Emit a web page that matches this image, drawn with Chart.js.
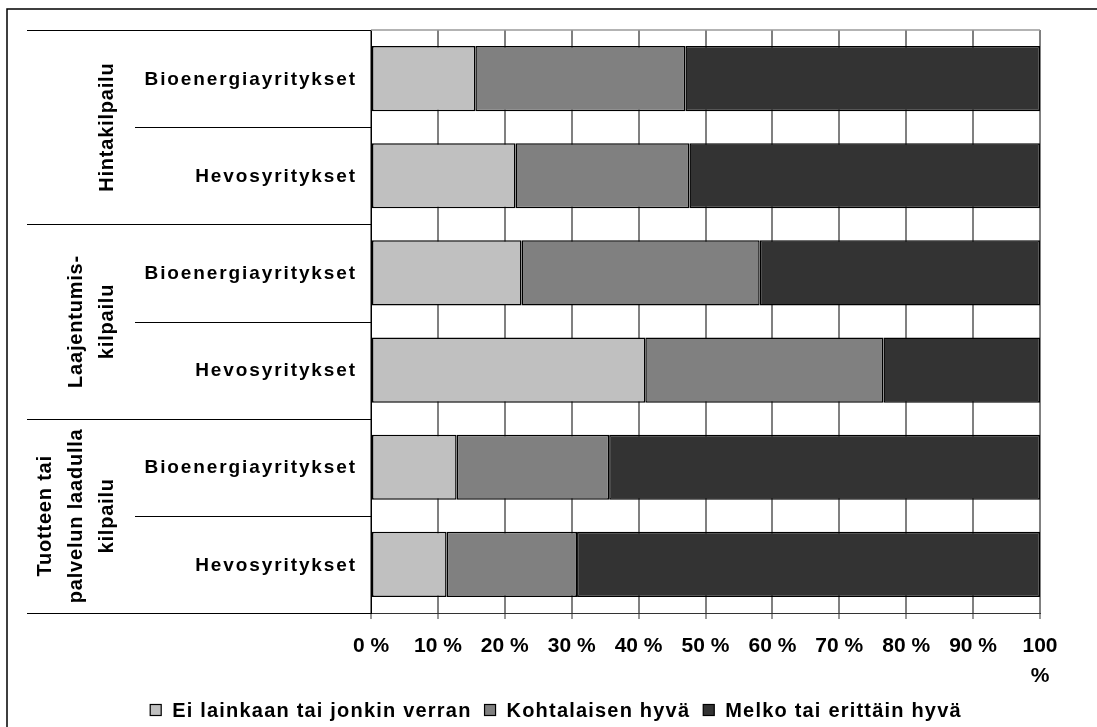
<!DOCTYPE html>
<html>
<head>
<meta charset="utf-8">
<script src="https://cdn.jsdelivr.net/npm/chart.js@4.4.1/dist/chart.umd.min.js"></script>
<style>
  body { margin: 0; background: #fff; }
  #wrap { width: 1097px; height: 727px; }
</style>
</head>
<body>
<div id="wrap"><canvas id="chart" width="1097" height="727"></canvas></div>
<script>
// --- Data ---
const categories = ['Bioenergiayritykset', 'Hevosyritykset', 'Bioenergiayritykset', 'Hevosyritykset', 'Bioenergiayritykset', 'Hevosyritykset'];
const groupLabels = [['Hintakilpailu'], ['Laajentumis-', 'kilpailu'], ['Tuotteen tai', 'palvelun laadulla', 'kilpailu']];
const seriesNames = ['Ei lainkaan tai jonkin verran', 'Kohtalaisen hyvä', 'Melko tai erittäin hyvä'];
const eiLainkaan = [15.6, 21.6, 22.5, 41.0, 12.8, 11.3];
const kohtalainen = [31.4, 26.0, 35.6, 35.6, 22.8, 19.5];
const melko = [53.0, 52.4, 41.9, 23.4, 64.4, 69.2];
const xTicks = [0, 10, 20, 30, 40, 50, 60, 70, 80, 90, 100];

const colors = ['#C0C0C0', '#808080', '#333333'];
const FONT = '"Liberation Sans", Arial, sans-serif';

// Draws the category labels, group labels, separators, legend and frame
const sideLabels = {
    id: 'sideLabels',
    afterDraw(chart) {
        const ctx = chart.ctx;
        const y = chart.scales.y;
        const area = chart.chartArea;
        ctx.save();

        // outer frame (top + left)
        ctx.strokeStyle = '#000';
        ctx.lineWidth = 1.5;
        ctx.beginPath();
        ctx.moveTo(7, 727); ctx.lineTo(7, 9); ctx.lineTo(1097, 9);
        ctx.stroke();

        // plot top border
        ctx.strokeStyle = '#9a9a9a';
        ctx.lineWidth = 1.5;
        ctx.beginPath();
        ctx.moveTo(area.left, area.top); ctx.lineTo(area.right, area.top);
        ctx.stroke();

        // separators between categories / groups
        ctx.strokeStyle = '#000';
        ctx.lineWidth = 1;
        for (let i = 0; i <= categories.length; i++) {
            const py = Math.round(y.getPixelForValue(i - 0.5)) + 0.5;
            const x0 = (i % 2 === 0) ? 27 : 135;
            ctx.beginPath();
            ctx.moveTo(x0, py); ctx.lineTo(area.left, py);
            ctx.stroke();
        }

        // category labels
        ctx.fillStyle = '#000';
        ctx.font = 'bold 19px ' + FONT;
        ctx.letterSpacing = '1.9px';
        ctx.textAlign = 'right';
        ctx.textBaseline = 'middle';
        categories.forEach((c, i) => {
            ctx.fillText(c, 357, y.getPixelForTick(i) + 1);
        });

        // group labels, rotated
        ctx.font = 'bold 20px ' + FONT;
        ctx.letterSpacing = '0.8px';
        ctx.textAlign = 'center';
        ctx.textBaseline = 'alphabetic';
        groupLabels.forEach((lines, g) => {
            const top = y.getPixelForValue(g * 2 - 0.5);
            const bottom = y.getPixelForValue(g * 2 + 1.5);
            ctx.save();
            ctx.translate(0, (top + bottom) / 2);
            ctx.rotate(-Math.PI / 2);
            const n = lines.length;
            lines.forEach((t, k) => {
                ctx.fillText(t, 0, 113 - (n - 1 - k) * 31);
            });
            ctx.restore();
        });

        // legend
        ctx.font = 'bold 20px ' + FONT;
        ctx.letterSpacing = '1.2px';
        ctx.textAlign = 'left';
        ctx.textBaseline = 'middle';
        const box = 11, boxGap = 11, itemGap = 13;
        const widths = seriesNames.map(s => ctx.measureText(s).width);
        const total = widths.reduce((a, w) => a + box + boxGap + w, 0) + itemGap * (seriesNames.length - 1);
        let lx = 556 - total / 2;
        const ly = 710;
        seriesNames.forEach((s, i) => {
            ctx.fillStyle = colors[i];
            ctx.fillRect(lx, ly - box / 2, box, box);
            ctx.strokeStyle = '#000';
            ctx.lineWidth = 1.2;
            ctx.strokeRect(lx, ly - box / 2, box, box);
            ctx.fillStyle = '#000';
            ctx.fillText(s, lx + box + boxGap, ly + 1);
            lx += box + boxGap + widths[i] + itemGap;
        });
        ctx.restore();
    }
};

new Chart(document.getElementById('chart'), {
    type: 'bar',
    data: {
        labels: categories,
        datasets: [
            { label: seriesNames[0], data: eiLainkaan, backgroundColor: colors[0] },
            { label: seriesNames[1], data: kohtalainen, backgroundColor: colors[1] },
            { label: seriesNames[2], data: melko, backgroundColor: colors[2] }
        ].map(d => Object.assign(d, {
            borderColor: '#000',
            borderWidth: 1.5,
            borderSkipped: false,
            barPercentage: 0.67,
            categoryPercentage: 1
        }))
    },
    options: {
        indexAxis: 'y',
        responsive: false,
        animation: false,
        layout: { padding: { top: 30, right: 57, bottom: 0, left: 0 } },
        plugins: {
            tooltip: { enabled: false },
            legend: { display: false }
        },
        scales: {
            x: {
                stacked: true,
                min: 0,
                max: 100,
                afterFit: s => { s.height = 114; },
                afterBuildTicks: s => { s.ticks = xTicks.map(v => ({ value: v })); },
                grid: { color: '#808080', lineWidth: 2, tickColor: '#333', tickLength: 6, tickWidth: 1 },
                border: { display: true, color: '#333', width: 1 },
                ticks: {
                    color: '#000',
                    padding: 12,
                    maxRotation: 0,
                    font: { family: FONT, size: 21, weight: 'bold', lineHeight: '30px' },
                    callback: v => v === 100 ? ['100', '%'] : v + ' %'
                }
            },
            y: {
                stacked: true,
                afterFit: s => { s.width = 371; },
                grid: { display: false },
                border: { display: true, color: '#000', width: 1 },
                ticks: { display: false }
            }
        }
    },
    plugins: [sideLabels]
});
</script>
</body>
</html>
